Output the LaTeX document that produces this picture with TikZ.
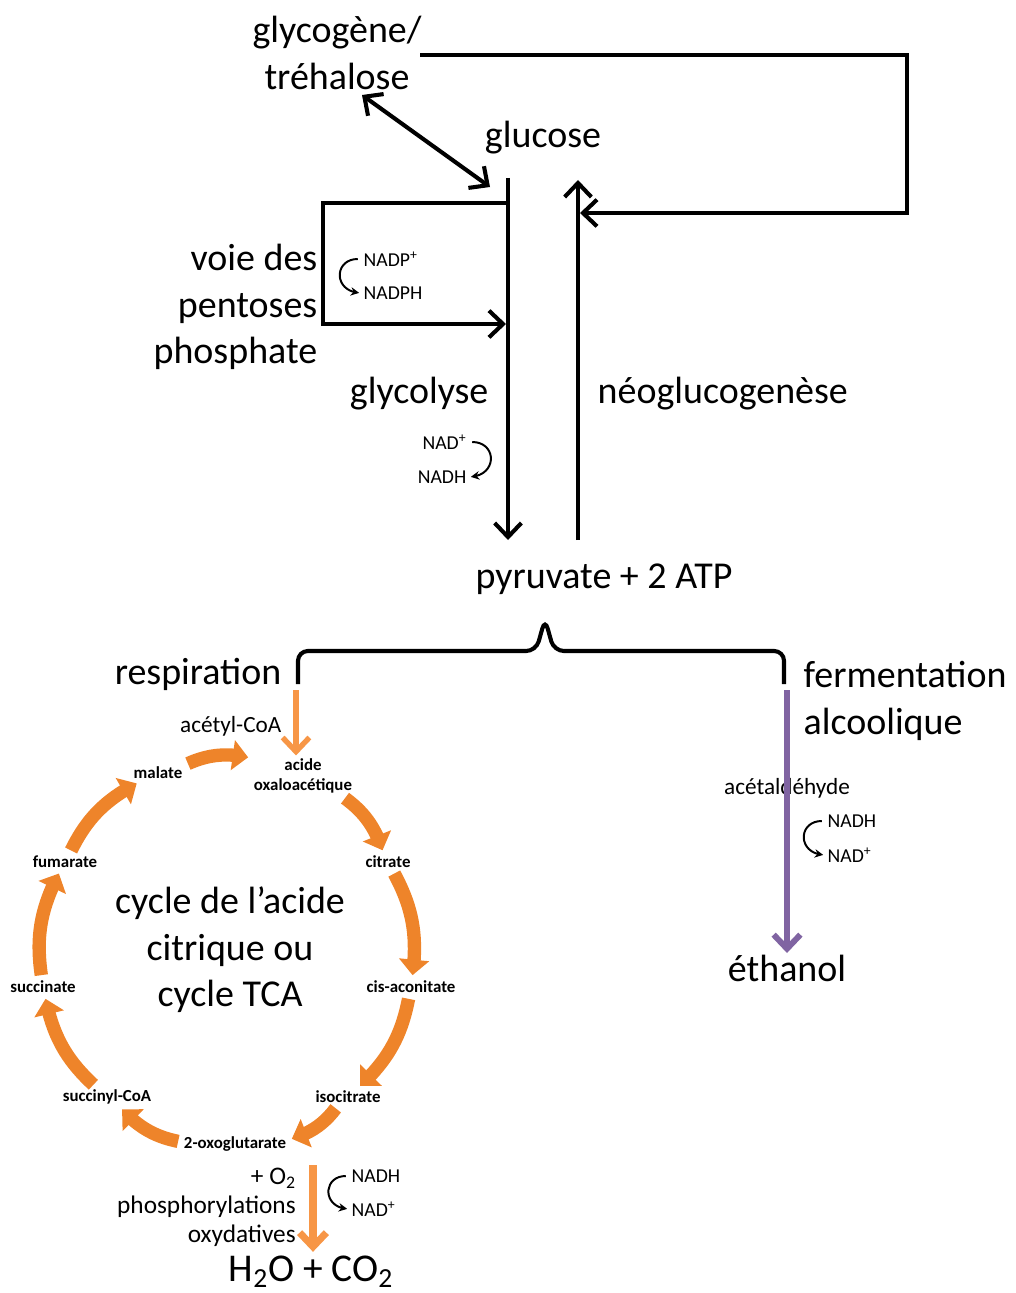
\documentclass[tikz,border=0pt]{standalone}
\usepackage{fontspec}
\setmainfont{Carlito}
\usetikzlibrary{arrows.meta,calc,bending}

\definecolor{tcaorange}{RGB}{238,132,42}
\definecolor{resporange}{RGB}{247,150,70}
\definecolor{fermpurple}{RGB}{128,100,162}

\begin{document}
\begin{tikzpicture}[x=0.025cm,y=-0.025cm,
  >={Straight Barb[length=10pt,width=19pt]},
  big/.style={font=\fontsize{27}{33}\selectfont, inner sep=1pt},
  medium/.style={font=\fontsize{16.5}{20}\selectfont, inner sep=1pt},
  small/.style={font=\fontsize{14}{17}\selectfont, inner sep=1pt},
  cyc/.style={font=\bfseries\fontsize{12}{14.5}\selectfont, align=center, inner sep=2pt},
  blk/.style={line width=2.9pt},
  cofactor/.style={line width=1.4pt, shorten <=3pt, shorten >=2pt, -{Stealth[length=6pt,width=6pt]}},
  tcastep/.style={tcaorange, line width=9.5pt, bend left=18, shorten <=2pt, shorten >=2pt,
    -{Triangle[length=11pt,width=21pt,flex]}},
  resparrow/.style={resporange, line width=3.8pt, ->},
  fermarrow/.style={fermpurple, line width=4.2pt, ->}]

\useasboundingbox (0,0) rectangle (1016,1293);

% top part
\node[big, align=center] (glycogen) at (337,53) {glycogène/\\tréhalose};
\node[big] (glucose) at (543,138) {glucose};
\node[big, align=right, anchor=east] (pentoses) at (319,307) {voie des\\pentoses\\phosphate};
\node[big, anchor=east] (glycolyse) at (490,394) {glycolyse};
\node[big, anchor=west] (neogluco) at (596,394) {néoglucogenèse};
\node[big] (pyruvate) at (604,579) {pyruvate + 2 ATP};

\node[small, anchor=west] (nadpplus) at (362,259) {NADP\textsuperscript{+}};
\node[small, anchor=west] (nadph) at (362,293) {NADPH};
\node[small, anchor=east] (nadplusA) at (468,442) {NAD\textsuperscript{+}};
\node[small, anchor=east] (nadhA) at (468,477) {NADH};

\coordinate (dblA) at (362,95);
\coordinate (dblB) at (490,187);
\coordinate (glyTop) at (508,178);
\coordinate (glyBot) at (508,540);
\coordinate (neoTop) at (578,180);
\coordinate (neoBot) at (578,540);
\coordinate (loopA) at (420,55);
\coordinate (loopB) at (907,55);
\coordinate (loopC) at (907,213);
\coordinate (loopD) at (580,213);
\coordinate (pentA) at (508,203);
\coordinate (pentB) at (323,203);
\coordinate (pentC) at (323,324);
\coordinate (pentD) at (506,324);

\draw[blk, <->] (dblA) -- (dblB);
\draw[blk, ->] (glyTop) -- (glyBot);
\draw[blk, ->] (neoBot) -- (neoTop);
\draw[blk, ->] (loopA) -- (loopB) -- (loopC) -- (loopD);
\draw[blk, ->] (pentA) -- (pentB) -- (pentC) -- (pentD);

\draw[cofactor] (nadpplus.west) to[out=180,in=180,looseness=2.2] (nadph.west);
\draw[cofactor] (nadplusA.east) to[out=0,in=0,looseness=2.2] (nadhA.east);

% brace
\coordinate (brL) at (298,684);
\coordinate (brTip) at (545,619);
\coordinate (brR) at (784,684);
\draw[blk, rounded corners=7pt] (brL) |- ($(brTip)+(-9,32)$) -- (brTip) -- ($(brTip)+(9,32)$) -| (brR);

\node[big, anchor=east] (respiration) at (283,674) {respiration};
\node[big, align=left, anchor=west] (fermentation) at (802,701) {fermentation\\alcoolique};

% fermentation
\coordinate (fermTop) at (787,690);
\node[medium] (acetald) at (787,788) {acétaldéhyde};
\node[big] (ethanol) at (787,968) {éthanol};
\draw[fermarrow] (fermTop) -- (ethanol.north);
\node[small, anchor=west] (nadhF) at (826,821) {NADH};
\node[small, anchor=west] (nadplusF) at (826,855) {NAD\textsuperscript{+}};
\draw[cofactor] (nadhF.west) to[out=180,in=180,looseness=2.2] (nadplusF.west);

% TCA cycle
\node[medium, anchor=east] (acetylcoa) at (283,726) {acétyl-CoA};
\node[cyc] (oxalo) at (303,776) {acide\\oxaloacétique};
\node[cyc] (citrate) at (388,862) {citrate};
\node[cyc] (cisacon) at (411,987) {cis-aconitate};
\node[cyc] (isocit) at (348,1097) {isocitrate};
\node[cyc] (oxoglu) at (235,1144) {2-oxoglutarate};
\node[cyc] (succoa) at (107,1097) {succinyl-CoA};
\node[cyc] (succ) at (43,987) {succinate};
\node[cyc] (fum) at (65,862) {fumarate};
\node[cyc] (mal) at (158,773) {malate};
\node[big, align=center] (tca) at (230,950) {cycle de l’acide\\citrique ou\\cycle TCA};

\coordinate (respTop) at (296,690);
\draw[resparrow] (respTop) -- (respTop |- oxalo.north);

\draw[tcastep] (mal) to (oxalo);
\draw[tcastep] (oxalo) to (citrate);
\draw[tcastep] (citrate) to (cisacon);
\draw[tcastep] (cisacon) to (isocit);
\draw[tcastep] (isocit) to (oxoglu);
\draw[tcastep] (oxoglu) to (succoa);
\draw[tcastep] (succoa) to (succ);
\draw[tcastep] (succ) to (fum);
\draw[tcastep] (fum) to (mal);

% oxidative phosphorylation
\node[font=\fontsize{18}{20.5}\selectfont, align=right, anchor=east, inner sep=0pt] (oxphos) at (296,1207)
  {+ O\textsubscript{2}\\phosphorylations\\oxydatives};
\node[small, anchor=west] (nadhR) at (350,1176) {NADH};
\node[small, anchor=west] (nadplusR) at (350,1209) {NAD\textsuperscript{+}};
\draw[cofactor] (nadhR.west) to[out=180,in=180,looseness=2.2] (nadplusR.west);
\node[font=\fontsize{28}{33}\selectfont, inner sep=0pt] (h2o) at (311,1272) {H\textsubscript{2}O + CO\textsubscript{2}};
\coordinate (oxTop) at (313,1165);
\draw[resporange, line width=5pt, ->, shorten >=3pt] (oxTop) -- (oxTop |- h2o.north);

\end{tikzpicture}
\end{document}
